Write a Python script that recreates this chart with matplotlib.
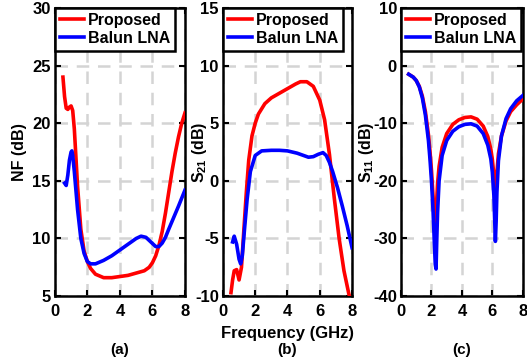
import matplotlib
matplotlib.use("Agg")
import matplotlib.pyplot as plt

plt.rcParams["font.family"] = ["Liberation Sans", "DejaVu Sans"]
plt.rcParams["font.weight"] = "bold"
plt.rcParams["axes.unicode_minus"] = False
plt.rcParams["mathtext.fontset"] = "custom"
plt.rcParams["mathtext.rm"] = "Liberation Sans:bold"
plt.rcParams["mathtext.it"] = "Liberation Sans:bold"
plt.rcParams["mathtext.bf"] = "Liberation Sans:bold"

# (a) noise figure, dB
nf_prop_f = [0.5, 0.6, 0.7, 0.8, 0.9, 1.0, 1.1, 1.2, 1.4, 1.6, 1.8, 2.0, 2.2, 2.5, 3.0,
             3.5, 4.0, 4.5, 5.0, 5.5, 5.8, 6.0, 6.2, 6.4, 6.6, 6.8, 7.0, 7.2, 7.4, 7.6, 7.8, 8.0]
nf_prop = [24.0, 22.3, 21.3, 21.2, 21.4, 21.5, 21.1, 19.5, 14.5, 10.8, 8.9, 8.0, 7.4, 6.9, 6.6,
           6.6, 6.7, 6.8, 7.0, 7.2, 7.5, 7.9, 8.5, 9.4, 10.6, 12.2, 14.0, 15.8, 17.4, 18.8, 20.0, 20.9]
nf_bal_f = [0.6, 0.7, 0.8, 0.9, 1.0, 1.05, 1.1, 1.2, 1.4, 1.6, 1.8, 2.0, 2.2, 2.5, 3.0, 3.5,
            4.0, 4.5, 5.0, 5.3, 5.6, 5.9, 6.2, 6.4, 6.6, 6.8, 7.0, 7.3, 7.6, 8.0]
nf_bal = [14.8, 14.6, 15.5, 16.8, 17.5, 17.6, 17.2, 15.8, 12.5, 10.0, 8.7, 8.0, 7.8, 7.8, 8.1, 8.5,
          9.0, 9.5, 10.0, 10.2, 10.1, 9.7, 9.3, 9.3, 9.6, 10.1, 10.8, 11.8, 12.8, 14.2]

# (b) S21, dB
s21_prop_f = [0.5, 0.6, 0.7, 0.85, 1.0, 1.15, 1.3, 1.45, 1.6, 1.8, 2.0, 2.2, 2.6, 3.0, 3.5,
              4.0, 4.5, 4.8, 5.2, 5.6, 6.0, 6.3, 6.6, 6.9, 7.2, 7.5, 7.8, 8.0]
s21_prop = [-9.7, -8.6, -7.8, -7.7, -8.6, -7.5, -4.2, -1.0, 1.8, 3.9, 5.0, 5.8, 6.7, 7.2, 7.6,
            8.0, 8.4, 8.6, 8.6, 8.2, 7.0, 5.3, 2.3, -1.5, -5.0, -7.8, -9.8, -10.8]
s21_bal_f = [0.6, 0.7, 0.85, 1.0, 1.1, 1.2, 1.35, 1.5, 1.7, 2.0, 2.4, 3.0, 3.5, 4.0, 4.6, 5.0,
             5.3, 5.6, 5.9, 6.2, 6.4, 6.6, 6.8, 7.1, 7.4, 7.7, 8.0]
s21_bal = [-5.3, -4.8, -5.5, -6.8, -7.2, -6.5, -4.0, -1.6, 0.8, 2.2, 2.6, 2.65, 2.65, 2.6, 2.4, 2.2,
           2.05, 2.1, 2.3, 2.45, 2.2, 1.6, 0.8, -0.6, -2.2, -3.9, -5.8]

# (c) S11, dB
s11_f = [0.5, 0.8, 1.0, 1.2, 1.4, 1.6, 1.8, 1.9, 2.0, 2.1, 2.2, 2.25, 2.3, 2.35, 2.4, 2.5,
         2.7, 3.0, 3.4, 3.8, 4.2, 4.6, 5.0, 5.4, 5.7, 5.9, 6.0, 6.1, 6.15, 6.2, 6.25, 6.3,
         6.4, 6.6, 6.9, 7.2, 7.6, 8.0]
s11_prop = [-1.5, -2.0, -2.6, -3.6, -5.3, -8.0, -12.0, -14.8, -18.2, -22.5, -28.0, -29.0, -26.5,
            -23.0, -20.5, -17.5, -14.2, -11.8, -10.2, -9.4, -9.0, -8.9, -9.3, -10.5, -12.3, -14.5,
            -16.3, -19.0, -20.8, -22.0, -20.5, -18.5, -15.3, -12.2, -9.6, -8.0, -6.8, -5.8]
s11_bal = [-1.5, -2.0, -2.6, -3.7, -5.6, -8.6, -13.0, -16.2, -20.0, -25.0, -31.5, -34.5, -35.3,
           -30.0, -25.5, -20.0, -15.6, -13.0, -11.4, -10.6, -10.2, -10.1, -10.5, -11.8, -13.8,
           -16.2, -18.5, -22.5, -26.5, -30.5, -27.0, -22.0, -16.5, -12.2, -9.2, -7.5, -6.1, -5.2]

# rect, ylim, yticks, ylabel, ylabel x (axes coords), proposed, balun, tag
panels = [
    ([0.104, 0.182, 0.247, 0.796], (5, 30), [5, 10, 15, 20, 25, 30], "NF (dB)", -0.21,
     (nf_prop_f, nf_prop), (nf_bal_f, nf_bal), "(a)"),
    ([0.423, 0.182, 0.245, 0.796], (-10, 15), [-10, -5, 0, 5, 10, 15], r"$S_{21}$ (dB)", -0.105,
     (s21_prop_f, s21_prop), (s21_bal_f, s21_bal), "(b)"),
    ([0.761, 0.182, 0.231, 0.796], (-40, 10), [-40, -30, -20, -10, 0, 10], r"$S_{11}$ (dB)", -0.205,
     (s11_f, s11_prop), (s11_f, s11_bal), "(c)"),
]

fig = plt.figure(figsize=(5.27, 3.62), dpi=100)

for rect, ylim, yticks, ylabel, lab_x, prop, bal, tag in panels:
    ax = fig.add_axes(rect)
    ax.plot(*prop, color="#ff0000", lw=2.6, label="Proposed", zorder=3)
    ax.plot(*bal, color="#0000ff", lw=2.6, label="Balun LNA", zorder=3)
    ax.set_xlim(0, 8)
    ax.set_ylim(*ylim)
    ax.set_xticks([0, 2, 4, 6, 8])
    ax.set_yticks(yticks)
    ax.grid(True, color="#d4d4d4", lw=1.8, ls=(0, (5, 3.5)))
    ax.tick_params(direction="in", length=4, width=1.5, top=True, right=True,
                   labelsize=12, pad=3)
    ax.tick_params(axis="x", pad=6)
    for s in ax.spines.values():
        s.set_linewidth(1.8)
    ax.set_ylabel(ylabel, fontsize=11.5, fontweight="bold")
    ax.yaxis.set_label_coords(lab_x, 0.5)
    leg = ax.legend(loc="upper left", borderaxespad=0, fontsize=11.5, handlelength=1.5,
                    handletextpad=0.25, labelspacing=0.2, borderpad=0.3, fancybox=False,
                    framealpha=1, edgecolor="black")
    leg.get_frame().set_linewidth(1.8)
    cx = rect[0] + rect[2] / 2
    fig.text(cx, 0.033, tag, ha="center", va="center", fontsize=11, fontweight="bold")

fig.text(0.545, 0.08, "Frequency (GHz)", ha="center", va="center", fontsize=12,
         fontweight="bold")

fig.savefig("out.png", dpi=100)
